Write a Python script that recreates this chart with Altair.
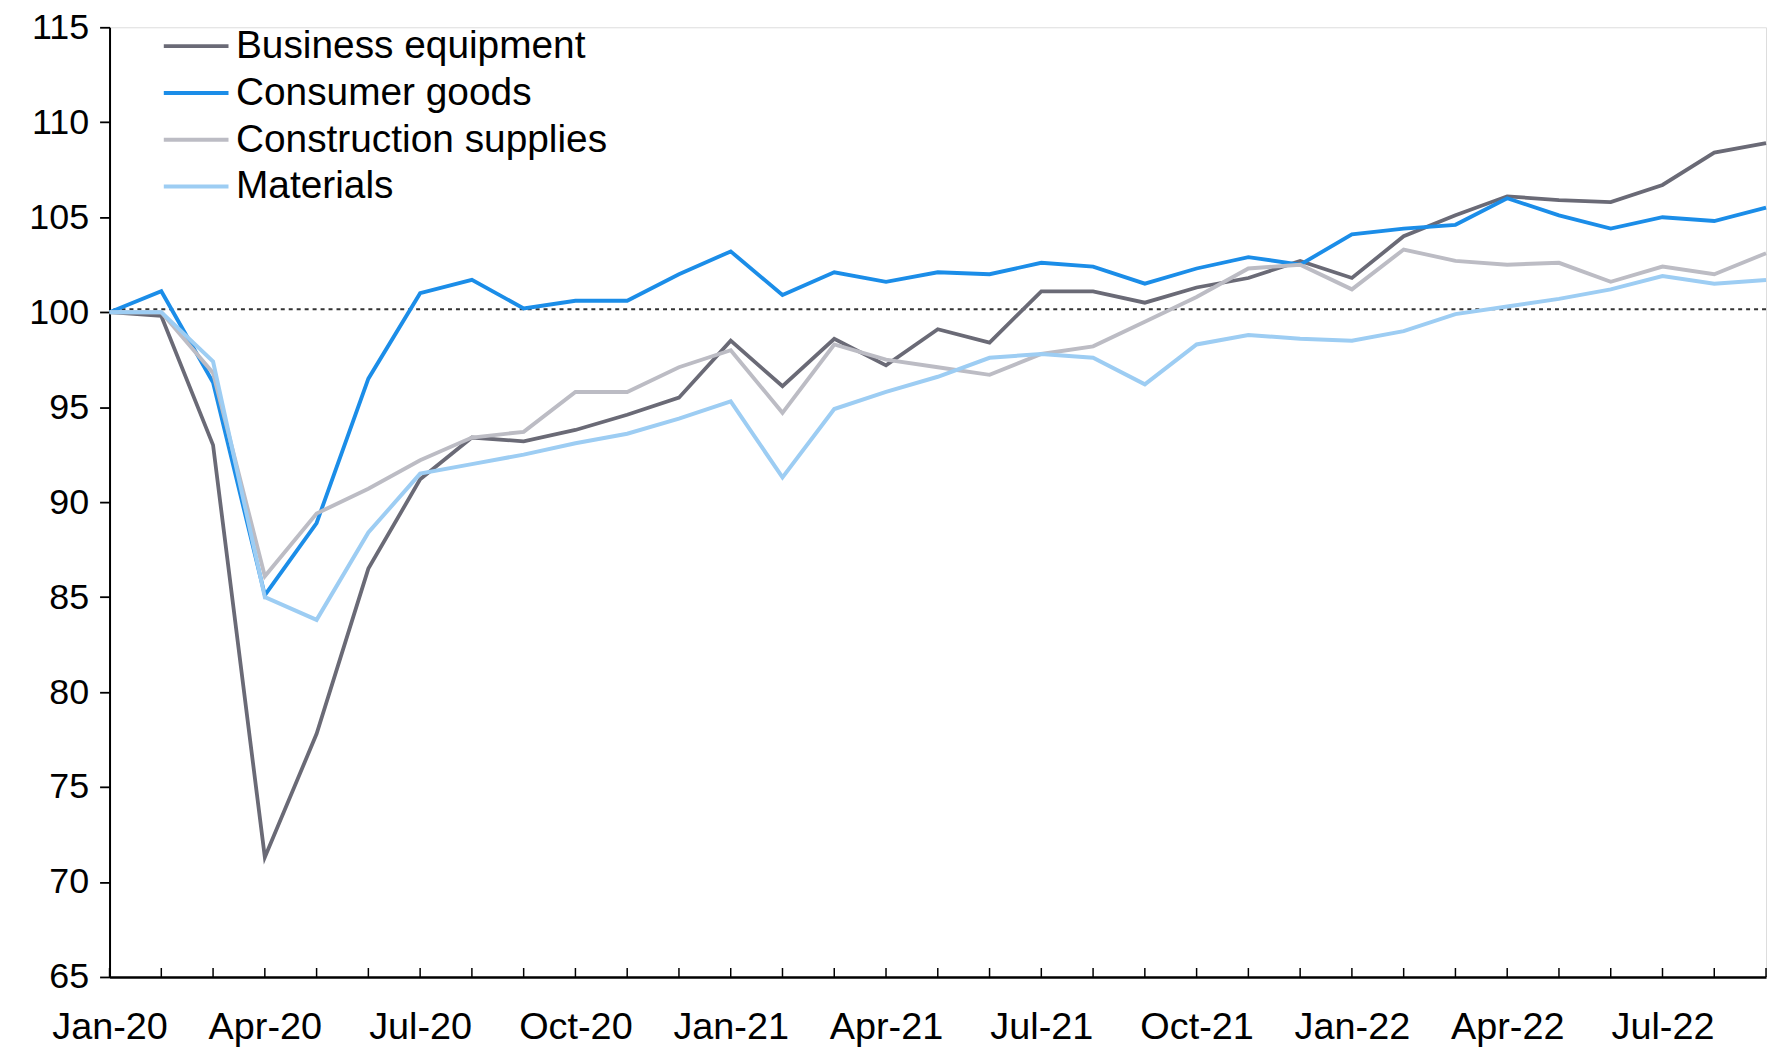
import altair as alt
import pandas as pd

months = ["Jan-20", "Feb-20", "Mar-20", "Apr-20", "May-20", "Jun-20", "Jul-20", "Aug-20", "Sep-20",
          "Oct-20", "Nov-20", "Dec-20", "Jan-21", "Feb-21", "Mar-21", "Apr-21", "May-21", "Jun-21",
          "Jul-21", "Aug-21", "Sep-21", "Oct-21", "Nov-21", "Dec-21", "Jan-22", "Feb-22", "Mar-22",
          "Apr-22", "May-22", "Jun-22", "Jul-22", "Aug-22", "Sep-22"]

business = [100.0, 99.8, 93.0, 71.3, 77.8, 86.5, 91.2, 93.4, 93.2, 93.8, 94.6, 95.5, 98.5, 96.1,
            98.6, 97.2, 99.1, 98.4, 101.1, 101.1, 100.5, 101.3, 101.8, 102.7, 101.8, 104.0, 105.1,
            106.1, 105.9, 105.8, 106.7, 108.4, 108.9]
consumer = [100.0, 101.1, 96.3, 85.1, 88.9, 96.5, 101.0, 101.7, 100.2, 100.6, 100.6, 102.0, 103.2,
            100.9, 102.1, 101.6, 102.1, 102.0, 102.6, 102.4, 101.5, 102.3, 102.9, 102.5, 104.1, 104.4,
            104.6, 106.0, 105.1, 104.4, 105.0, 104.8, 105.5]
construction = [100.0, 100.0, 96.8, 86.1, 89.4, 90.7, 92.2, 93.4, 93.7, 95.8, 95.8, 97.1, 98.0, 94.7,
                98.3, 97.5, 97.1, 96.7, 97.8, 98.2, 99.5, 100.8, 102.3, 102.5, 101.2, 103.3, 102.7,
                102.5, 102.6, 101.6, 102.4, 102.0, 103.1]
materials = [100.0, 100.0, 97.4, 85.0, 83.8, 88.4, 91.5, 92.0, 92.5, 93.1, 93.6, 94.4, 95.3, 91.3,
             94.9, 95.8, 96.6, 97.6, 97.8, 97.6, 96.2, 98.3, 98.8, 98.6, 98.5, 99.0, 99.9, 100.3,
             100.7, 101.2, 101.9, 101.5, 101.7]

series_names = ["Business equipment", "Consumer goods", "Construction supplies", "Materials"]
series_colors = ["#6a6a76", "#1b8de8", "#bcbcc4", "#9dcdf3"]
series_widths = [3.8, 4.0, 3.2, 3.2]
y_ticks = [65, 70, 75, 80, 85, 90, 95, 100, 105, 110, 115]
ref_level = 100.15

rows = []
for name, vals in zip(series_names, [business, consumer, construction, materials]):
    for m, v in zip(months, vals):
        rows.append({"month": m, "series": name, "value": v})
df = pd.DataFrame(rows)
months_df = pd.DataFrame({"month": months})
ref_df = pd.DataFrame({"level": [ref_level]})

W, H = 1664, 954
FONT = "Liberation Sans"

x_enc = alt.X("month:O", sort=months,
              scale=alt.Scale(type="point", padding=0, domain=months),
              axis=alt.Axis(title=None, ticks=False, labelAngle=0, labelFontSize=38,
                            labelFont=FONT, labelColor="#000000", labelPadding=32,
                            domainColor="#000000", domainWidth=2.5,
                            labelExpr="indexof(['Jan','Apr','Jul','Oct'], slice(datum.label,0,3)) >= 0 ? datum.label : ''"))
y_scale = alt.Scale(domain=[65, 115], nice=False, zero=False)

lines = alt.Chart(df).mark_line().encode(
    x=x_enc,
    y=alt.Y("value:Q", scale=y_scale,
            axis=alt.Axis(title=None, values=y_ticks, grid=False, tickSize=10, tickColor="#000000",
                          tickWidth=1.8, domainColor="#000000", domainWidth=2,
                          labelFontSize=36, labelFont=FONT, labelColor="#000000", labelPadding=11)),
    color=alt.Color("series:N", sort=series_names,
                    scale=alt.Scale(domain=series_names, range=series_colors),
                    legend=alt.Legend(title=None, orient="none", legendX=60, legendY=-8,
                                      symbolType="M-1.3,0L1.3,0", symbolSize=2500, symbolStrokeWidth=4,
                                      labelFontSize=39, labelFont=FONT, labelColor="#000000",
                                      labelOffset=13, rowPadding=0, labelLimit=700)),
    strokeWidth=alt.StrokeWidth("series:N", sort=series_names,
                                scale=alt.Scale(domain=series_names, range=series_widths),
                                legend=None),
)

ref = alt.Chart(ref_df).mark_rule(color="#333333", strokeDash=[4, 4], strokeWidth=2).encode(
    y=alt.Y("level:Q", scale=y_scale)
)

ticks = alt.Chart(months_df).mark_rule(color="#000000", strokeWidth=1.5).encode(
    x=alt.X("month:O", sort=months, scale=alt.Scale(type="point", padding=0, domain=months)),
    y=alt.value(H),
    y2=alt.value(H - 9),
)

chart = alt.layer(ref, lines, ticks).properties(
    width=W, height=H,
    autosize=alt.AutoSizeParams(type="none"),
    padding={"left": 102, "top": 17, "right": 6, "bottom": 70},
).configure_view(stroke=None).configure(background="#ffffff")

chart.save("out.html", embed_options={"renderer": "svg", "actions": False})
